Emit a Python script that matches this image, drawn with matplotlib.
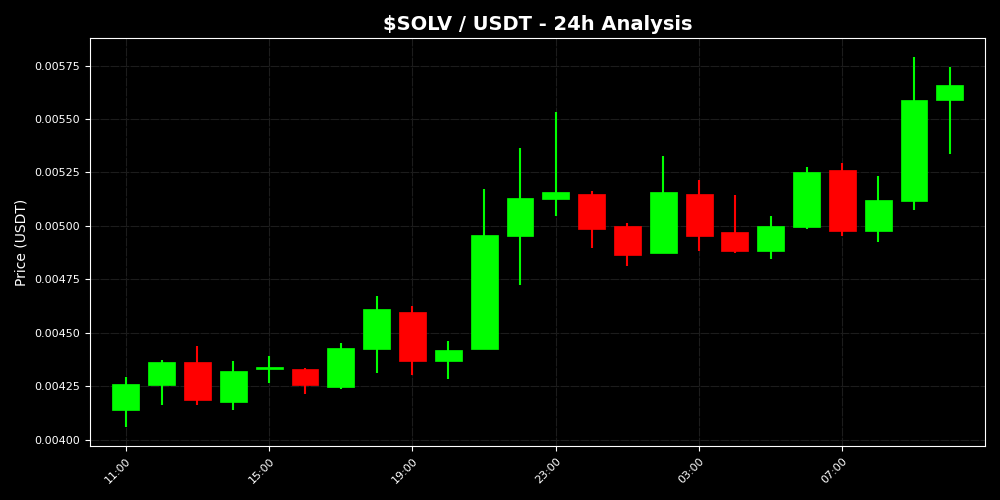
import matplotlib
matplotlib.use("Agg")
import matplotlib.pyplot as plt
import matplotlib.dates as mdates
import pandas as pd
import numpy as np

times = pd.date_range("2024-05-01 11:00", periods=24, freq="h")
opens = [0.004137, 0.004257, 0.004361, 0.004174, 0.004330, 0.004331, 0.004244, 0.004425,
         0.004599, 0.004366, 0.004425, 0.004952, 0.005125, 0.005149, 0.004999, 0.004871,
         0.005149, 0.004972, 0.004882, 0.004995, 0.005260, 0.004975, 0.005115, 0.005591]
closes = [0.004261, 0.004361, 0.004187, 0.004319, 0.004340, 0.004257, 0.004431, 0.004613,
          0.004366, 0.004420, 0.004957, 0.005131, 0.005157, 0.004983, 0.004863, 0.005157,
          0.004952, 0.004882, 0.004999, 0.005251, 0.004975, 0.005120, 0.005587, 0.005657]
highs = [0.004293, 0.004373, 0.004436, 0.004366, 0.004392, 0.004333, 0.004454, 0.004672,
         0.004627, 0.004462, 0.005171, 0.005364, 0.005532, 0.005162, 0.005014, 0.005325,
         0.005213, 0.005143, 0.005045, 0.005274, 0.005293, 0.005232, 0.005792, 0.005741]
lows = [0.004057, 0.004163, 0.004163, 0.004137, 0.004267, 0.004215, 0.004237, 0.004314,
        0.004303, 0.004285, 0.004425, 0.004723, 0.005045, 0.004895, 0.004812, 0.004871,
        0.004882, 0.004874, 0.004845, 0.004986, 0.004952, 0.004925, 0.005073, 0.005336]

UP = "#00ff00"
DOWN = "#ff0000"

fig = plt.figure(figsize=(10, 5), dpi=100, facecolor="black")
ax = fig.add_axes([0.09, 0.108, 0.895, 0.816])
ax.set_facecolor("black")

x = mdates.date2num(times)
width = 0.75 / 24
for xi, o, c, h, l in zip(x, opens, closes, highs, lows):
    col = UP if c >= o else DOWN
    ax.vlines(xi, l, h, color=col, linewidth=1.5, zorder=2)
    ax.bar(xi, abs(c - o), width=width, bottom=min(o, c), color=col,
           edgecolor=col, linewidth=0.5, zorder=3)

ax.set_xlim(x[0] - 1.0 / 24, x[-1] + 0.98 / 24)
ax.margins(y=0.05)
ax.set_yticks([0.004, 0.00425, 0.0045, 0.00475, 0.005, 0.00525, 0.0055, 0.00575])
ax.yaxis.set_major_formatter(matplotlib.ticker.FormatStrFormatter("%.5f"))
ax.xaxis.set_major_locator(mdates.HourLocator(byhour=[3, 7, 11, 15, 19, 23]))
ax.xaxis.set_major_formatter(mdates.DateFormatter("%H:%M"))

ax.grid(True, color="#1c1c1c", linewidth=0.8, linestyle="--", dashes=(8, 1))
ax.set_axisbelow(True)
for s in ax.spines.values():
    s.set_color("white")
ax.tick_params(colors="white", labelsize=8)
plt.setp(ax.get_xticklabels(), rotation=45, ha="right", rotation_mode="anchor")

ax.set_title("$SOLV / USDT - 24h Analysis", color="white", fontsize=14, fontweight="bold")
ax.set_ylabel("Price (USDT)", color="white", fontsize=10)

fig.savefig("out.png", dpi=100, facecolor="black")
